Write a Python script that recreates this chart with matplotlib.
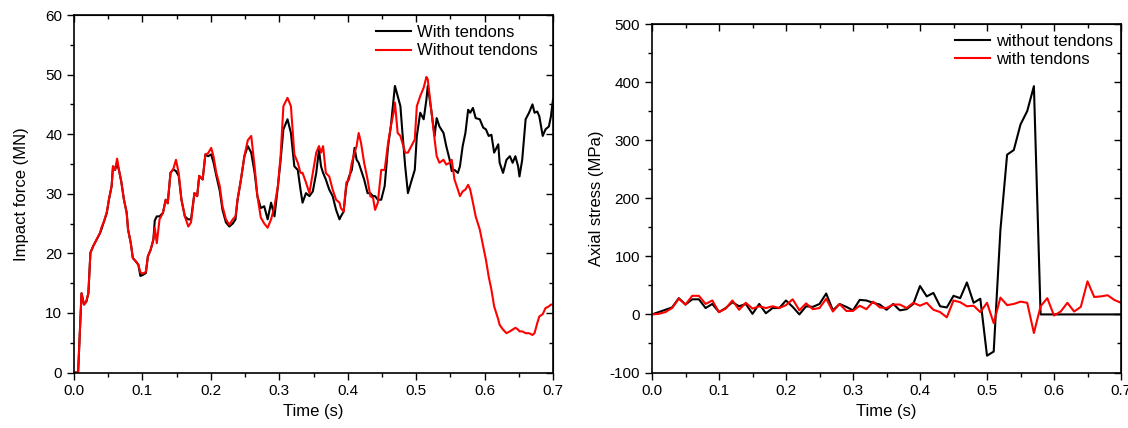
import numpy as np
import matplotlib.pyplot as plt
from matplotlib.ticker import MultipleLocator

plt.rcParams['font.family'] = ['Liberation Sans', 'DejaVu Sans']
plt.rcParams['axes.unicode_minus'] = False

# ---- left panel: impact force (MN) ----
t_force = [0, 0.006, 0.011, 0.0146, 0.018, 0.021, 0.024, 0.028, 0.033, 0.038,
           0.040, 0.044, 0.048, 0.051, 0.055, 0.057, 0.060, 0.063, 0.066, 0.069,
           0.073, 0.077, 0.079, 0.083, 0.086, 0.090, 0.094, 0.097, 0.101, 0.105,
           0.108, 0.112, 0.116, 0.118, 0.121, 0.125, 0.130, 0.134, 0.137, 0.141,
           0.145, 0.149, 0.153, 0.157, 0.162, 0.167, 0.171, 0.176, 0.180, 0.183,
           0.188, 0.192, 0.196, 0.2005, 0.204, 0.208, 0.213, 0.217, 0.222, 0.227,
           0.232, 0.236, 0.239, 0.244, 0.249, 0.254, 0.259, 0.264, 0.268, 0.273,
           0.278, 0.283, 0.288, 0.293, 0.298, 0.302, 0.306, 0.312, 0.317, 0.322,
           0.327, 0.331, 0.334, 0.339, 0.344, 0.349, 0.354, 0.358, 0.361, 0.364,
           0.368, 0.373, 0.378, 0.383, 0.388, 0.390, 0.394, 0.398, 0.402, 0.406,
           0.410, 0.413, 0.416, 0.4195, 0.424, 0.429, 0.433, 0.437, 0.440, 0.444,
           0.449, 0.454, 0.459, 0.463, 0.467, 0.469, 0.473, 0.477, 0.480, 0.484,
           0.488, 0.493, 0.498, 0.501, 0.506, 0.511, 0.515, 0.517, 0.522, 0.527,
           0.530, 0.534, 0.540, 0.544, 0.549, 0.552, 0.556, 0.561, 0.564, 0.568,
           0.572, 0.576, 0.579, 0.583, 0.587, 0.593, 0.598, 0.602, 0.606, 0.610,
           0.614, 0.620, 0.622, 0.627, 0.632, 0.637, 0.641, 0.645, 0.649, 0.651,
           0.655, 0.660, 0.665, 0.670, 0.673, 0.677, 0.680, 0.685, 0.689, 0.694,
           0.697, 0.700]

force_with = [0, 0, 13.3, 11.4, 11.9, 13.3, 20.1, 21.2, 22.3, 23.4,
              24.0, 25.4, 26.8, 29.0, 31.3, 34.6, 34.0, 35.2, 33.8, 32.1,
              29.0, 26.8, 24.0, 21.7, 19.2, 18.7, 18.1, 16.2, 16.4, 16.7,
              19.5, 20.6, 22.3, 25.5, 26.2, 26.2, 26.8, 29.0, 28.4, 33.5,
              34.1, 33.8, 33.0, 29.0, 26.2, 25.7, 25.7, 30.1, 29.6, 33.0,
              32.4, 36.6, 36.3, 36.6, 35.2, 33.0, 30.5, 27.3, 25.2, 24.5,
              25.0, 25.7, 29.0, 32.4, 36.3, 38.0, 36.9, 33.5, 29.6, 27.6,
              27.9, 25.7, 28.5, 26.2, 31.3, 35.7, 40.8, 42.5, 40.2, 34.6,
              34.0, 30.7, 28.5, 30.1, 29.6, 30.4, 33.5, 37.4, 34.6, 33.5,
              32.4, 30.7, 29.6, 27.3, 25.7, 26.2, 27.0, 31.3, 32.9, 34.0,
              37.7, 35.7, 35.2, 34.0, 32.4, 30.1, 30.1, 29.6, 29.6, 29.0,
              29.0, 31.3, 38.0, 41.3, 45.8, 48.1, 46.4, 44.7, 40.2, 34.6,
              30.1, 32.1, 34.0, 39.7, 43.6, 42.5, 45.8, 48.1, 44.1, 39.7,
              42.7, 41.3, 40.2, 38.0, 35.7, 33.8, 34.0, 33.5, 34.6, 38.0,
              40.2, 44.1, 43.6, 44.4, 42.7, 42.5, 41.1, 40.8, 39.7, 39.9,
              36.9, 38.3, 35.2, 33.5, 35.7, 36.3, 35.2, 36.3, 34.6, 32.9,
              35.7, 42.5, 43.6, 45.0, 43.6, 43.8, 43.0, 39.7, 40.8, 41.3,
              43.0, 45.8]

force_without = [0, 0, 13.3, 11.4, 11.9, 13.3, 20.1, 21.2, 22.3, 23.4,
                 24.3, 25.4, 27.0, 29.0, 31.3, 34.6, 34.0, 35.9, 33.8, 32.1,
                 29.0, 26.8, 24.0, 21.7, 19.2, 18.7, 18.1, 16.8, 16.6, 16.9,
                 19.5, 20.6, 22.3, 24.3, 21.7, 25.7, 26.8, 29.0, 28.4, 33.5,
                 34.1, 35.7, 33.5, 29.0, 26.2, 24.5, 25.2, 30.1, 29.6, 33.0,
                 32.4, 36.6, 36.8, 37.7, 36.2, 33.5, 31.3, 27.9, 25.7, 24.8,
                 25.7, 26.2, 29.0, 32.4, 36.3, 39.0, 39.7, 34.5, 29.6, 26.0,
                 25.0, 24.3, 25.7, 27.9, 31.3, 36.5, 44.7, 46.1, 44.7, 36.6,
                 35.2, 33.5, 33.5, 31.9, 30.1, 33.5, 36.9, 38.0, 36.9, 38.0,
                 33.5, 32.9, 30.7, 29.0, 28.5, 27.6, 27.0, 31.9, 32.4, 35.2,
                 36.9, 38.0, 40.2, 38.5, 35.2, 32.4, 29.6, 29.3, 27.3, 28.5,
                 34.0, 34.0, 38.5, 41.3, 43.6, 45.3, 40.2, 39.7, 38.5, 36.9,
                 36.9, 38.0, 39.1, 44.7, 46.4, 47.8, 49.6, 49.2, 44.1, 39.1,
                 36.3, 35.2, 35.7, 34.9, 35.2, 35.7, 32.4, 30.7, 29.6, 30.4,
                 30.7, 31.5, 30.7, 28.5, 26.2, 24.0, 21.2, 18.9, 16.1, 13.9,
                 11.1, 8.9, 8.0, 7.2, 6.6, 6.9, 7.2, 7.5, 7.2, 6.9,
                 6.9, 6.6, 6.6, 6.3, 6.6, 8.3, 9.4, 9.8, 10.8, 11.1,
                 11.4, 11.4]

# ---- right panel: axial stress (MPa), sampled every 0.01 s ----
t_stress = np.round(np.arange(0, 0.701, 0.01), 2)

stress_without = [0, 4, 8, 12, 28, 17, 26, 26, 11, 18,
                  4, 11, 21, 14, 18, 1, 18, 2, 11, 11,
                  24, 13, 0, 14, 13, 18, 36, 7, 18, 13,
                  7, 25, 24, 20, 17, 8, 18, 7, 9, 18,
                  49, 31, 37, 14, 12, 32, 28, 55, 20, 27,
                  -71, -64, 145, 275, 283, 327, 350, 393, 0, 0,
                  0, 0, 0, 0, 0, 0, 0, 0, 0, 0,
                  0]

stress_with = [0, 1, 4, 11, 27, 17, 32, 32, 18, 24,
               4, 10, 24, 8, 20, 10, 14, 11, 14, 11,
               16, 26, 7, 19, 9, 11, 27, 5, 18, 6,
               6, 15, 9, 22, 12, 11, 17, 17, 11, 20,
               15, 20, 8, 4, -5, 24, 21, 14, 15, 4,
               20, -15, 29, 16, 18, 22, 20, -32, 14, 28,
               -2, 5, 20, 5, 13, 57, 30, 31, 33, 25,
               20]

fig = plt.figure(figsize=(11.28, 4.28), dpi=100)
ax1 = fig.add_axes([74/1128, 1-372.5/428, 479/1128, 357.5/428])
ax2 = fig.add_axes([652/1128, 1-372.5/428, 469/1128, 348.5/428])

ax1.plot(t_force, force_with, color='black', lw=1.5, label='With tendons')
ax1.plot(t_force, force_without, color='red', lw=1.5, label='Without tendons')
ax1.set_xlim(0, 0.7)
ax1.set_ylim(0, 60)
ax1.set_xticks(np.arange(0, 0.71, 0.1))
ax1.set_yticks(np.arange(0, 61, 10))
ax1.xaxis.set_minor_locator(MultipleLocator(0.05))
ax1.yaxis.set_minor_locator(MultipleLocator(5))
ax1.set_xlabel('Time (s)', fontsize=12)
ax1.set_ylabel('Impact force (MN)', fontsize=12, labelpad=12)
ax1.legend(loc='upper right', frameon=False, fontsize=12, handlelength=2.1,
           handletextpad=0.4, labelspacing=0.2, borderaxespad=0.2,
           bbox_to_anchor=(0.99, 1.0))

ax2.plot(t_stress, stress_without, color='black', lw=1.5, label='without tendons')
ax2.plot(t_stress, stress_with, color='red', lw=1.5, label='with tendons')
ax2.set_xlim(0, 0.7)
ax2.set_ylim(-100, 500)
ax2.set_xticks(np.arange(0, 0.71, 0.1))
ax2.set_yticks(np.arange(-100, 501, 100))
ax2.xaxis.set_minor_locator(MultipleLocator(0.05))
ax2.yaxis.set_minor_locator(MultipleLocator(50))
ax2.set_xlabel('Time (s)', fontsize=12)
ax2.set_ylabel('Axial stress (MPa)', fontsize=12)
ax2.legend(loc='upper right', frameon=False, fontsize=12, handlelength=2.1,
           handletextpad=0.4, labelspacing=0.2, borderaxespad=0.2,
           bbox_to_anchor=(1.005, 1.0))

for ax in (ax1, ax2):
    for sp in ax.spines.values():
        sp.set_linewidth(1.2)
    ax.tick_params(which='both', direction='out', labelsize=11, width=1.0)
    ax.tick_params(which='major', length=5)
    ax.tick_params(which='minor', length=3)
    ax.xaxis.set_major_formatter(plt.FuncFormatter(lambda v, p: '%.1f' % v))
    # mirrored inward ticks on top and right, no labels
    sx = ax.secondary_xaxis('top')
    sx.set_xticks(ax.get_xticks())
    sx.xaxis.set_minor_locator(MultipleLocator(0.05))
    sx.tick_params(which='both', direction='in', labeltop=False, width=1.0)
    sx.tick_params(which='major', length=5)
    sx.tick_params(which='minor', length=3)
    sy = ax.secondary_yaxis('right')
    sy.set_yticks(ax.get_yticks())
    sy.yaxis.set_minor_locator(ax.yaxis.get_minor_locator())
    sy.tick_params(which='both', direction='in', labelright=False, width=1.0)
    sy.tick_params(which='major', length=5)
    sy.tick_params(which='minor', length=3)

fig.savefig('out.png', dpi=100)
